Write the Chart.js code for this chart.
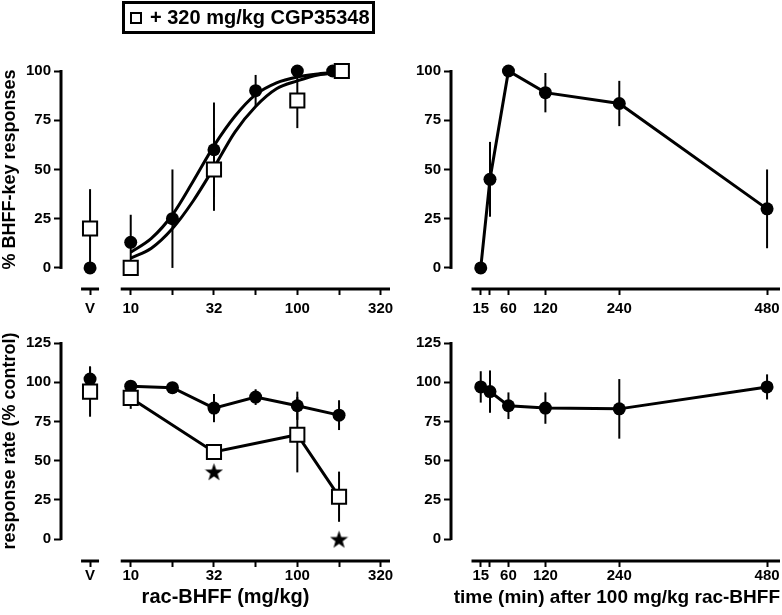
<!DOCTYPE html>
<html>
<head>
<meta charset="utf-8">
<script src="https://cdn.jsdelivr.net/npm/chart.js@4.4.1/dist/chart.umd.min.js"></script>
<style>
  html, body { margin: 0; padding: 0; background: #fff; }
  #wrap { position: relative; width: 782px; height: 615px; }
  #wrap canvas { position: absolute; left: 0; top: 0; }
  #legend {
    position: absolute; left: 122px; top: 1px; width: 247px; height: 27px;
    border: 3px solid #000; display: flex; align-items: center;
    font: bold 20px 'Liberation Sans', Arial, sans-serif; color: #000;
  }
  #legend .sq { width: 8px; height: 8px; border: 2px solid #000; margin: 0 8px 0 5px; }
</style>
</head>
<body>
<div id="wrap">
  <canvas id="tl" width="782" height="615"></canvas>
  <canvas id="tr" width="782" height="615"></canvas>
  <canvas id="bl" width="782" height="615"></canvas>
  <canvas id="br" width="782" height="615"></canvas>
  <div id="legend"></div>
</div>
<script>
const FONT = "'Liberation Sans', Arial, sans-serif";

// left column: rac-BHFF dose (mg/kg) on a log axis, "V" = vehicle
const doseTicks = [10, 17.8, 31.6, 56.2, 100, 178, 316];
const doseTickLabels = ['10', '', '32', '', '100', '', '320'];
const doses = [10, 17.8, 31.6, 56.2, 100, 178];
const cgpDoses = [10, 31.6, 100, 178];
const keyDoses = [10, 17.8, 31.6, 56.2, 100, 163];   // last point nudged left in the figure
const keyCgpDoses = [10, 31.6, 100, 185];

// % BHFF-key responses
const keyAlone = [13, 25, 60, 90, 100, 100];
const keyAloneErr = [14, 25, 24, 8, 0, 0];
const keyCgp = [0, 50, 85, 100];
const keyCgpErr = [0, 21, 14, 0];
const keyVehicle = [0, 20];        // [alone, + CGP]
const keyVehicleErr = [0, 20];

// fitted dose-response curves
const fitDoses = [10, 13.3, 17.8, 23.7, 31.6, 42.2, 56.2, 75, 100, 133, 178];
const fitAlone = [8, 15, 27, 44, 62, 77, 88, 94, 97, 98.5, 99.3];
const fitCgp = [5, 10, 20, 34, 51, 69, 82, 91, 95, 98, 99];

// response rate (% control)
const rateAlone = [97.5, 96.5, 83.5, 90.5, 85, 79];
const rateAloneErr = [3, 2, 9, 5, 9, 9.5];
const rateCgp = [90, 55.5, 66.5, 27];
const rateCgpErr = [7, 3, 24, 16];
const rateVehicle = [102, 94];
const rateVehicleErr = [8, 16];
const starDoses = [31.6, 178];
const starLevels = [43, 0];

// right column: time course after 100 mg/kg rac-BHFF
const times = [15, 30, 60, 120, 240, 480];
const timeTickLabels = ['15', '', '60', '120', '240', '480'];
const keyTime = [0, 45, 100, 89, 83.5, 30];
const keyTimeErr = [0, 19, 0, 10, 11.5, 20];
const rateTime = [97, 94, 85, 83.5, 83, 97];
const rateTimeErr = [10, 13.5, 8.5, 10, 19, 8];

const pctTicks = [0, 25, 50, 75, 100];
const rateTicks = [0, 25, 50, 75, 100, 125];
const cgpLabel = '+ 320 mg/kg CGP35348';

const V_AT = 5.7;   // where the vehicle column sits on the dose axis

const pts = (xs, ys) => xs.map((x, i) => ({ x, y: ys[i] }));

function starImage(size) {
  const c = document.createElement('canvas');
  c.width = c.height = size;
  const g = c.getContext('2d');
  const R = size / 2, r = R * 0.4, cx = size / 2, cy = size / 2 + 1;
  g.beginPath();
  for (let k = 0; k < 10; k++) {
    const rad = k % 2 ? r : R;
    const a = -Math.PI / 2 + k * Math.PI / 5;
    g.lineTo(cx + rad * Math.cos(a), cy + rad * Math.sin(a));
  }
  g.closePath();
  g.fillStyle = '#000';
  g.fill();
  return c;
}

function circles(data, errors, line) {
  return {
    data, errors, showLine: line, borderColor: '#000', borderWidth: 3,
    pointStyle: 'circle', pointRadius: 6.5, pointBackgroundColor: '#000',
    pointBorderColor: '#000', pointBorderWidth: 0, clip: false, order: 2
  };
}
function squares(data, errors, line, label) {
  return {
    label, data, errors, showLine: line, borderColor: '#000', borderWidth: 3,
    pointStyle: 'rect', pointRadius: 10, pointBackgroundColor: '#fff',
    pointBorderColor: '#000', pointBorderWidth: 2, clip: false, order: 1
  };
}
function curve(data) {
  return {
    data, showLine: true, borderColor: '#000', borderWidth: 3, pointRadius: 0,
    cubicInterpolationMode: 'monotone', clip: false, order: 3
  };
}

// error bars, offset axis lines and the vertical y title
const frame = {
  id: 'frame',
  beforeDatasetsDraw(chart, args, opts) {
    const ctx = chart.ctx, xs = chart.scales.x, ys = chart.scales.y, area = chart.chartArea;
    ctx.save();
    ctx.strokeStyle = '#000';
    ctx.lineWidth = 2;
    chart.data.datasets.forEach((ds, di) => {
      if (!ds.errors) return;
      const meta = chart.getDatasetMeta(di);
      ds.data.forEach((p, i) => {
        const e = ds.errors[i];
        if (!e) return;
        const x = meta.data[i].x;
        ctx.beginPath();
        ctx.moveTo(x, ys.getPixelForValue(p.y + e));
        ctx.lineTo(x, ys.getPixelForValue(p.y - e));
        ctx.stroke();
      });
    });

    ctx.lineWidth = 3;
    ctx.beginPath();
    ctx.moveTo(area.left, ys.getPixelForValue(opts.yTop) - 1);
    ctx.lineTo(area.left, ys.getPixelForValue(0) + 1);
    ctx.stroke();
    opts.segments.forEach(([a, b, padA, padB]) => {
      const x0 = xs.getPixelForValue(a) - padA;
      const x1 = b == null ? area.right : xs.getPixelForValue(b) + padB;
      ctx.beginPath();
      ctx.moveTo(x0, area.bottom);
      ctx.lineTo(x1, area.bottom);
      ctx.stroke();
    });

    if (opts.yTitle) {
      const mid = (ys.getPixelForValue(opts.yTop) + ys.getPixelForValue(0)) / 2;
      ctx.translate(15, mid);
      ctx.rotate(-Math.PI / 2);
      ctx.fillStyle = '#000';
      ctx.font = 'bold 18px ' + FONT;
      ctx.textAlign = 'center';
      ctx.textBaseline = 'alphabetic';
      ctx.fillText(opts.yTitle, 0, 0);
    }
    ctx.restore();
  }
};

const tickFont = { family: FONT, size: 15, weight: 'bold' };

function yScale(min, max, ticks) {
  return {
    min, max,
    afterBuildTicks: s => { s.ticks = ticks.map(value => ({ value })); },
    afterFit: s => { s.width = 45; s.paddingTop = 0; s.paddingBottom = 0; },
    ticks: { color: '#000', font: tickFont, padding: 3 },
    grid: { drawOnChartArea: false, tickLength: 7, tickWidth: 2, tickColor: '#000' },
    border: { display: false }
  };
}
function xScale(type, min, max, ticks, labels, height, pad, title, titleSize, align) {
  return {
    type, min, max,
    afterBuildTicks: s => { s.ticks = ticks.map(value => ({ value })); },
    afterFit: s => { s.height = height; s.paddingLeft = 0; s.paddingRight = 0; },
    ticks: { color: '#000', font: tickFont, padding: pad, autoSkip: false, maxRotation: 0,
             callback: (v, i) => labels[i] },
    grid: { drawOnChartArea: false, tickLength: 6, tickWidth: 2, tickColor: '#000' },
    border: { display: false },
    title: title ? { display: true, text: title, color: '#000',
                     font: { family: FONT, size: titleSize, weight: 'bold' },
                     align: align || 'center', padding: { top: 0, bottom: 6 } } : { display: false }
  };
}

function panel(id, datasets, padding, x, y, frameOpts) {
  return new Chart(document.getElementById(id), {
    type: 'line',
    data: { datasets },
    options: {
      responsive: false, animation: false, devicePixelRatio: 1,
      layout: { padding, autoPadding: false },
      plugins: { legend: { display: false }, tooltip: { enabled: false }, frame: frameOpts },
      scales: { x, y }
    },
    plugins: [frame]
  });
}

const doseAxisTicks = [V_AT, ...doseTicks];
const doseAxisLabels = ['V', ...doseTickLabels];
const doseSegments = [[V_AT, V_AT, 9, 9], [10, null, 10, 0]];
const timeSegments = [[0, null, 0, 0]];

// top left: % BHFF-key responses vs dose
panel('tl', [
  curve(pts(fitDoses, fitAlone)),
  curve(pts(fitDoses, fitCgp)),
  circles(pts(keyDoses, keyAlone), keyAloneErr, false),
  squares(pts(keyCgpDoses, keyCgp), keyCgpErr, false, cgpLabel),
  circles([{ x: V_AT, y: keyVehicle[0] }], [keyVehicleErr[0]], false),
  squares([{ x: V_AT, y: keyVehicle[1] }], [keyVehicleErr[1]], false, cgpLabel)
], { left: 16, right: 392, top: 71, bottom: 296 },
  xScale('logarithmic', 3.815, 360, doseAxisTicks, doseAxisLabels, 30, 5),
  yScale(-10.7, 100, pctTicks),
  { yTop: 100, yTitle: '% BHFF-key responses', segments: doseSegments });

// top right: % BHFF-key responses vs time
panel('tr', [
  circles(pts(times, keyTime), keyTimeErr, true)
], { left: 406, right: 2, top: 71, bottom: 296 },
  xScale('linear', -33.3, 501, times, timeTickLabels, 30, 5),
  yScale(-10.7, 100, pctTicks),
  { yTop: 100, segments: timeSegments });

// bottom left: response rate vs dose
const star = starImage(19);
panel('bl', [
  circles(pts(doses, rateAlone), rateAloneErr, true),
  squares(pts(cgpDoses, rateCgp), rateCgpErr, true, cgpLabel),
  circles([{ x: V_AT, y: rateVehicle[0] }], [rateVehicleErr[0]], false),
  squares([{ x: V_AT, y: rateVehicle[1] }], [rateVehicleErr[1]], false, cgpLabel),
  { data: pts(starDoses, starLevels), showLine: false, pointStyle: star, pointRadius: 9, clip: false, order: 0 }
], { left: 16, right: 392, top: 343, bottom: 0 },
  xScale('logarithmic', 3.815, 360, doseAxisTicks, doseAxisLabels, 54, 0, 'rac-BHFF (mg/kg)', 20),
  yScale(-14, 125, rateTicks),
  { yTop: 125, yTitle: 'response rate (% control)', segments: doseSegments });

// bottom right: response rate vs time
panel('br', [
  circles(pts(times, rateTime), rateTimeErr, true)
], { left: 406, right: 2, top: 343, bottom: 0 },
  xScale('linear', -33.3, 501, times, timeTickLabels, 54, 0, 'time (min) after 100 mg/kg rac-BHFF', 19, 'end'),
  yScale(-14, 125, rateTicks),
  { yTop: 125, segments: timeSegments });

// boxed legend for the CGP35348 series
const legend = document.getElementById('legend');
const sq = document.createElement('span');
sq.className = 'sq';
const txt = document.createElement('span');
txt.textContent = cgpLabel;
legend.append(sq, txt);
</script>
</body>
</html>
